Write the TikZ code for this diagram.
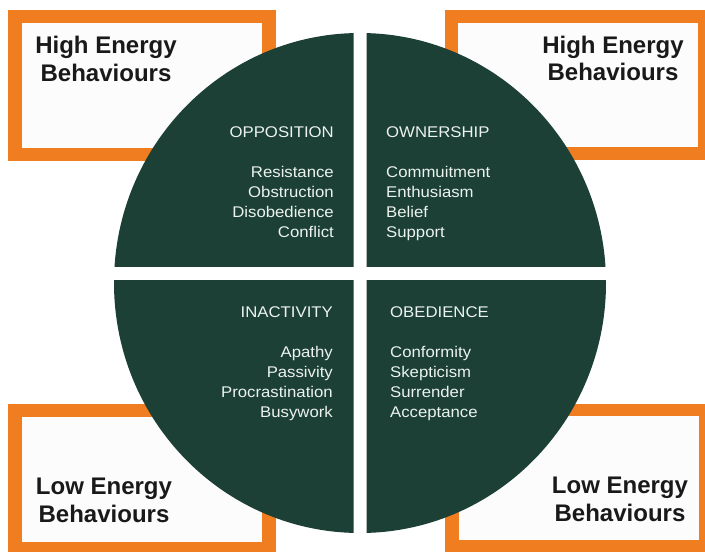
\documentclass[tikz,border=0pt]{standalone}
\usepackage{fontspec}
\setmainfont{Liberation Sans}
\newfontfamily\qfont[FakeStretch=1.08]{Liberation Sans}
\definecolor{qgreen}{RGB}{28,64,54}
\definecolor{borange}{RGB}{240,125,32}
\definecolor{qtext}{RGB}{236,242,238}
\begin{document}
\begin{tikzpicture}[x=1pt,y=-1pt,
  outerbox/.style={fill=borange},
  innerbox/.style={fill=white!99!black},
  biglabel/.style={font=\fontsize{24}{28}\selectfont\bfseries, text=black!90, inner sep=0pt, anchor=base},
  qtxtR/.style={font=\qfont\fontsize{15.5}{20}\selectfont, text=qtext, inner sep=0pt, anchor=base east},
  qtxtL/.style={font=\qfont\fontsize{15.5}{20}\selectfont, text=qtext, inner sep=0pt, anchor=base west},
]
\clip (0,0) rectangle (705,552);
\fill[white] (0,0) rectangle (705,552);

% orange boxes
\fill[outerbox] (8,10) rectangle (276,161);
\fill[innerbox] (22,23) rectangle (262,148);
\fill[outerbox] (445,10) rectangle (712,160);
\fill[innerbox] (458,23) rectangle (698,147);
\fill[outerbox] (8,404) rectangle (276,558);
\fill[innerbox] (22,417) rectangle (262,542);
\fill[outerbox] (445,404) rectangle (712,558);
\fill[innerbox] (459,416) rectangle (699,540);

% quadrants
\begin{scope}
  \clip (0,0) rectangle (353.5,266.5);
  \fill[qgreen] (360,283) ellipse [x radius=246, y radius=250];
\end{scope}
\begin{scope}
  \clip (366.5,0) rectangle (705,266.5);
  \fill[qgreen] (360,283) ellipse [x radius=246, y radius=250];
\end{scope}
\begin{scope}
  \clip (0,280) rectangle (353.5,552);
  \fill[qgreen] (360,283) ellipse [x radius=246, y radius=250];
\end{scope}
\begin{scope}
  \clip (366.5,280) rectangle (705,552);
  \fill[qgreen] (360,283) ellipse [x radius=246, y radius=250];
\end{scope}

% box labels
\node[biglabel] (tl1) at (106,53) {High Energy};
\node[biglabel] (tl2) at (106,81) {Behaviours};
\node[biglabel] (tr1) at (613,53) {High Energy};
\node[biglabel] (tr2) at (613,80) {Behaviours};
\node[biglabel] (bl1) at (104,494) {Low Energy};
\node[biglabel] (bl2) at (104,522) {Behaviours};
\node[biglabel] (br1) at (620,493) {Low Energy};
\node[biglabel] (br2) at (620,521) {Behaviours};

% quadrant texts
\node[qtxtR] (opp) at (334,137) {OPPOSITION};
\foreach \t [count=\i] in {Resistance,Obstruction,Disobedience,Conflict}
  \node[qtxtR] (opp\i) at (334,157+20*\i) {\t};

\node[qtxtL] (own) at (386,137) {OWNERSHIP};
\foreach \t [count=\i] in {Commuitment,Enthusiasm,Belief,Support}
  \node[qtxtL] (own\i) at (386,157+20*\i) {\t};

\node[qtxtR] (ina) at (333,317) {INACTIVITY};
\foreach \t [count=\i] in {Apathy,Passivity,Procrastination,Busywork}
  \node[qtxtR] (ina\i) at (333,337+20*\i) {\t};

\node[qtxtL] (obe) at (390,317) {OBEDIENCE};
\foreach \t [count=\i] in {Conformity,Skepticism,Surrender,Acceptance}
  \node[qtxtL] (obe\i) at (390,337+20*\i) {\t};
\end{tikzpicture}
\end{document}
